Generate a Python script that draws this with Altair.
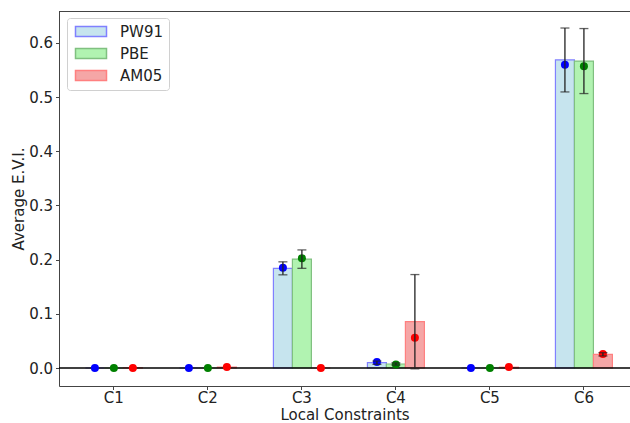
import altair as alt
import pandas as pd

categories = ["C1", "C2", "C3", "C4", "C5", "C6"]
series = ["PW91", "PBE", "AM05"]

pw91_bar = [0.0, 0.0, 0.184, 0.0098, 0.0, 0.5686]
pw91_err = [0.0, 0.0, 0.012, 0.003, 0.0, 0.059]
pw91_pt = [0.0, 0.0, 0.185, 0.011, 0.0, 0.560]

pbe_bar = [0.0, 0.0, 0.201, 0.0074, 0.0, 0.5666]
pbe_err = [0.0, 0.0, 0.017, 0.002, 0.0, 0.060]
pbe_pt = [0.0, 0.0, 0.2025, 0.0065, 0.0, 0.557]

am05_bar = [0.0005, 0.0015, 0.0, 0.0855, 0.0015, 0.0253]
am05_err = [0.0, 0.0, 0.0, 0.087, 0.0, 0.003]
am05_pt = [0.0, 0.002, 0.0, 0.056, 0.002, 0.026]

y_ticks = [0.0, 0.1, 0.2, 0.3, 0.4, 0.5, 0.6]

rows = []
for name, bars, errs, pts in [
    ("PW91", pw91_bar, pw91_err, pw91_pt),
    ("PBE", pbe_bar, pbe_err, pbe_pt),
    ("AM05", am05_bar, am05_err, am05_pt),
]:
    for c, b, e, p in zip(categories, bars, errs, pts):
        rows.append({"cat": c, "series": name, "bar": b, "err": e, "pt": p,
                     "lo": b - e, "hi": b + e})
df = pd.DataFrame(rows)

fill_colors = ["#C6E4EE", "#B1F3B1", "#F5A6A6"]
stroke_colors = ["#8080FF", "#80C080", "#FF8080"]
point_colors = ["#0000FF", "#008000", "#FF0000"]

W, H = 571, 375
FONT = "DejaVu Sans"

xenc = alt.X("cat:N", sort=categories,
             scale=alt.Scale(paddingInner=0.394, paddingOuter=0.234, align=0.6),
             axis=alt.Axis(title="Local Constraints", labelAngle=0, labelFontSize=15,
                           titleFontSize=15, titleFontWeight="normal", tickSize=3.5,
                           labelPadding=1, titlePadding=2, domainColor="#444",
                           tickColor="#444", labelColor="#222", titleColor="#222"))
xoff = alt.XOffset("series:N", sort=series,
                   scale=alt.Scale(domain=series, paddingInner=0, paddingOuter=0))
yscale = alt.Scale(domain=[-0.0332, 0.659], nice=False, zero=False)
yaxis = alt.Axis(title="Average E.V.I.", values=y_ticks, format=".1f", labelFontSize=15,
                 titleFontSize=15, titleFontWeight="normal", tickSize=3.5, labelPadding=3,
                 titlePadding=2, grid=False, domainColor="#444", tickColor="#444",
                 labelColor="#222", titleColor="#222")

base = alt.Chart(df)

bars = base.mark_bar(strokeWidth=1.2, fillOpacity=1).encode(
    x=xenc,
    xOffset=xoff,
    y=alt.Y("bar:Q", scale=yscale, axis=yaxis),
    fill=alt.Fill("series:N", sort=series,
                  scale=alt.Scale(domain=series, range=fill_colors),
                  legend=alt.Legend(title=None)),
    stroke=alt.Stroke("series:N", sort=series,
                      scale=alt.Scale(domain=series, range=stroke_colors),
                      legend=alt.Legend(title=None)),
)

zero_line = alt.Chart(pd.DataFrame({"z": [0.0]})).mark_rule(
    color="black", strokeWidth=1.5).encode(y=alt.Y("z:Q", scale=yscale))

points = base.mark_circle(size=64, opacity=1).encode(
    x=xenc,
    xOffset=xoff,
    y=alt.Y("pt:Q", scale=yscale),
    color=alt.Color("series:N", sort=series,
                    scale=alt.Scale(domain=series, range=point_colors), legend=None),
)

err_base = base.transform_filter(alt.datum.err > 0)
err_lines = err_base.mark_rule(color="#222", strokeWidth=1.3).encode(
    x=xenc, xOffset=xoff,
    y=alt.Y("lo:Q", scale=yscale), y2="hi:Q",
)
cap_lo = err_base.mark_tick(color="#222", thickness=1.3, size=9).encode(
    x=xenc, xOffset=xoff, y=alt.Y("lo:Q", scale=yscale))
cap_hi = err_base.mark_tick(color="#222", thickness=1.3, size=9).encode(
    x=xenc, xOffset=xoff, y=alt.Y("hi:Q", scale=yscale))

top_border = alt.Chart(pd.DataFrame({"z": [0]})).mark_rule(
    color="#444", strokeWidth=1).encode(
    x=alt.value(0), x2=alt.value(W), y=alt.value(0.5))

chart = alt.layer(
    bars, zero_line, points, err_lines, cap_lo, cap_hi, top_border
).resolve_scale(
    color="independent"
).properties(
    width=W, height=H,
    padding={"left": 59, "top": 11, "right": 0, "bottom": 37},
    autosize=alt.AutoSizeParams(type="none"),
).configure_view(
    stroke=None
).configure(
    font=FONT,
).configure_legend(
    orient="none", legendX=8, legendY=7,
    symbolType="M-1,-1H5.2V1H-1Z", symbolSize=100, symbolStrokeWidth=1.5,
    symbolOpacity=1,
    labelFontSize=15, labelFont=FONT, labelColor="#222", labelOffset=32,
    rowPadding=5, padding=6, strokeColor="#d0d0d0", cornerRadius=3,
    fillColor="white",
)

chart.save("out.html", embed_options={"renderer": "svg", "actions": False})
